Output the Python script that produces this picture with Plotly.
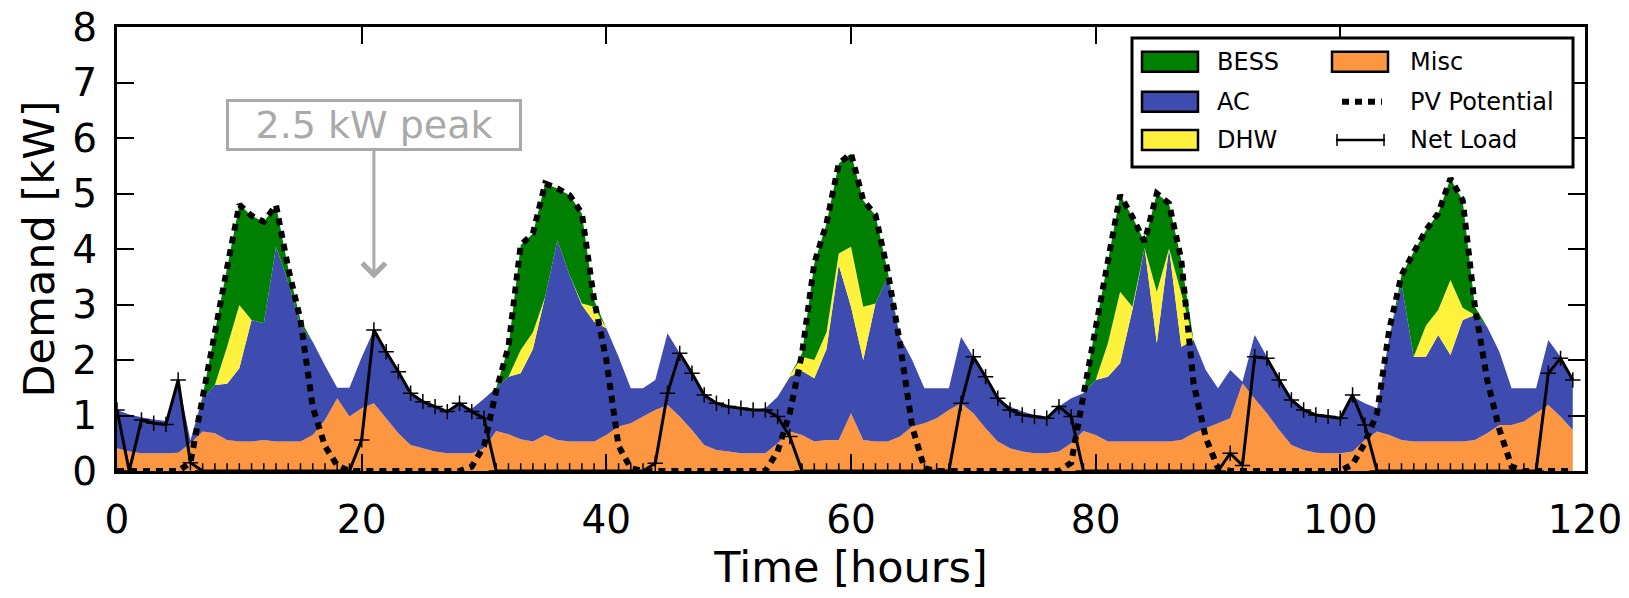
import plotly.graph_objects as go

hours = list(range(120))

misc = [
    0.41, 0.35, 0.32, 0.32, 0.32, 0.33, 0.50, 0.71, 0.68, 0.56,
    0.53, 0.53, 0.56, 0.53, 0.53, 0.53, 0.65, 0.92, 1.31, 0.98,
    1.13, 1.22, 0.95, 0.68, 0.47, 0.41, 0.35, 0.32, 0.32, 0.32,
    0.41, 0.72, 0.66, 0.57, 0.53, 0.65, 0.56, 0.53, 0.53, 0.53,
    0.65, 0.80, 0.86, 0.98, 1.10, 1.19, 0.98, 0.74, 0.47, 0.38,
    0.35, 0.32, 0.32, 0.32, 0.50, 0.71, 0.65, 0.53, 0.56, 0.56,
    1.04, 0.56, 0.53, 0.53, 0.62, 0.80, 0.86, 0.95, 1.10, 1.22,
    1.04, 0.77, 0.53, 0.41, 0.35, 0.32, 0.32, 0.35, 0.50, 0.72,
    0.65, 0.53, 0.53, 0.53, 0.53, 0.53, 0.53, 0.56, 0.68, 0.77,
    0.86, 0.95, 1.58, 1.30, 1.04, 0.74, 0.47, 0.38, 0.33, 0.32,
    0.32, 0.35, 0.56, 0.71, 0.65, 0.56, 0.53, 0.53, 0.53, 0.53,
    0.53, 0.56, 0.68, 0.83, 0.83, 0.89, 1.04, 1.19, 0.98, 0.74,
]

ac = [
    0.69, 0.67, 0.65, 0.61, 0.58, 1.31, 0.05, 0.59, 0.87, 1.01,
    1.32, 2.19, 2.10, 3.51, 2.87, 2.09, 1.68, 0.98, 0.19, 0.52,
    0.92, 1.32, 1.20, 1.11, 0.93, 0.84, 0.81, 0.76, 0.88, 0.80,
    0.89, 0.78, 1.04, 1.19, 1.67, 2.49, 3.60, 3.00, 2.46, 2.16,
    1.92, 1.26, 0.63, 0.51, 0.54, 1.29, 1.14, 1.05, 0.93, 0.84,
    0.81, 0.81, 0.78, 0.81, 0.84, 0.99, 1.15, 1.14, 1.64, 3.15,
    1.92, 1.44, 2.49, 2.97, 1.80, 1.20, 0.63, 0.54, 0.39, 1.20,
    1.02, 0.93, 0.78, 0.75, 0.72, 0.69, 0.66, 0.81, 0.81, 0.68,
    0.99, 1.17, 1.41, 2.37, 3.49, 1.77, 3.48, 1.68, 1.68, 1.05,
    0.63, 0.87, 0.03, 1.15, 1.02, 0.90, 0.81, 0.72, 0.68, 0.66,
    0.63, 0.99, 0.66, 0.42, 1.75, 2.82, 1.53, 1.53, 1.92, 1.56,
    2.19, 2.25, 1.92, 1.32, 0.66, 0.60, 0.45, 1.17, 1.08, 0.84,
]

dhw = [
    0, 0, 0, 0, 0, 0, 0, 0, 0, 0.67,
    1.14, 0, 0, 0, 0, 0, 0, 0, 0, 0,
    0, 0, 0, 0, 0, 0, 0, 0, 0, 0,
    0, 0, 0, 0.42, 0.30, 0, 0, 0, 0.03, 0.27,
    0, 0, 0, 0, 0, 0, 0, 0, 0, 0,
    0, 0, 0, 0, 0, 0.02, 0.26, 0.33, 0.30, 0.21,
    1.08, 0.96, 0, 0, 0, 0, 0, 0, 0, 0,
    0, 0, 0, 0, 0, 0, 0, 0, 0, 0,
    0, 0.60, 1.29, 0.06, 0, 0.93, 0, 0.96, 0, 0,
    0, 0, 0, 0, 0, 0, 0, 0, 0, 0,
    0, 0, 0, 0, 0, 0, 0, 0.56, 0.45, 1.35,
    0.22, 0, 0, 0, 0, 0, 0, 0, 0, 0,
]

bess = [
    0, 0, 0, 0, 0, 0, 0, 0.05, 0.96, 1.42,
    1.81, 1.88, 1.83, 0.75, 0.25, 0.10, 0, 0, 0, 0,
    0, 0, 0, 0, 0, 0, 0, 0, 0, 0,
    0, 0, 0.54, 1.89, 1.78, 2.04, 0.93, 1.44, 1.62, 0.12,
    0, 0, 0, 0, 0, 0, 0, 0, 0, 0,
    0, 0, 0, 0, 0, 0, 0.06, 1.74, 1.96, 1.62,
    1.68, 1.92, 1.59, 0.10, 0, 0, 0, 0, 0, 0,
    0, 0, 0, 0, 0, 0, 0, 0, 0, 0,
    0.97, 1.48, 1.74, 1.62, 0.11, 1.77, 0.81, 0.60, 0, 0,
    0, 0, 0, 0, 0, 0, 0, 0, 0, 0,
    0, 0, 0, 0, 0, 0.15, 1.89, 1.72, 1.74, 1.83,
    1.94, 0.15, 0, 0, 0, 0, 0, 0, 0, 0,
]

pv_potential = [
    0, 0, 0, 0, 0, 0, 0.15, 1.35, 2.51, 3.66,
    4.80, 4.60, 4.49, 4.79, 3.65, 2.72, 1.15, 0.45, 0.10, 0,
    0, 0, 0, 0, 0, 0, 0, 0, 0, 0.08,
    0.45, 1.45, 2.24, 4.07, 4.28, 5.18, 5.09, 4.97, 4.64, 3.08,
    2.00, 0.45, 0.05, 0, 0, 0, 0, 0, 0, 0,
    0, 0, 0, 0, 0.35, 1.05, 2.12, 3.74, 4.46, 5.54,
    5.72, 4.88, 4.61, 3.60, 2.30, 0.80, 0.05, 0, 0, 0,
    0, 0, 0, 0, 0, 0, 0, 0, 0.15, 1.41,
    2.61, 3.78, 4.97, 4.58, 4.13, 5.00, 4.82, 3.80, 1.58, 0.60,
    0.05, 0, 0, 0, 0, 0, 0, 0, 0, 0,
    0, 0.12, 0.50, 1.04, 2.55, 3.53, 3.95, 4.34, 4.64, 5.27,
    4.88, 2.96, 1.65, 0.75, 0.08, 0, 0, 0, 0, 0,
]

net_load = [
    1.10, 0, 0.92, 0.86, 0.84, 1.64, 0.15, 0, 0, 0,
    0, 0, 0, 0, 0, 0, 0, 0, 0, 0,
    0.56, 2.54, 2.15, 1.79, 1.40, 1.25, 1.16, 1.07, 1.22, 1.07,
    0.95, 0, 0, 0, 0, 0, 0, 0, 0, 0,
    0, 0, 0, 0, 0.14, 1.40, 2.12, 1.76, 1.37, 1.22,
    1.16, 1.13, 1.10, 1.10, 0.98, 0.62, 0, 0, 0, 0,
    0, 0, 0, 0, 0, 0, 0, 0, 0, 1.22,
    2.06, 1.70, 1.31, 1.10, 1.01, 0.98, 0.95, 1.16, 0.98, 0,
    0, 0, 0, 0, 0, 0, 0, 0, 0, 0,
    0, 0.32, 0.10, 2.06, 2.03, 1.64, 1.28, 1.10, 1.01, 0.98,
    0.95, 1.37, 0.83, 0, 0, 0, 0, 0, 0, 0,
    0, 0, 0, 0, 0, 0, 0, 1.76, 2.03, 1.64,
]

x_ticks = [0, 20, 40, 60, 80, 100, 120]
y_ticks = [0, 1, 2, 3, 4, 5, 6, 7, 8]

FONT = "DejaVu Sans"
C_MISC = "#fd9640"
C_AC = "#3f4caf"
C_DHW = "#fff23c"
C_BESS = "#008000"
GRAY = "#a9a9a9"
PV_DASH = "7px,6px"

# plot-area geometry (pixels) used only to place the legend box
W, H = 1629, 598
ML, MR, MT, MB = 117, 44, 27, 127
PW, PH = W - ML - MR, H - MT - MB


def px(xp):
    return (xp - ML) / PW


def py(yp):
    return (H - MB - yp) / PH


fig = go.Figure()

areas = [
    ("Misc", misc, C_MISC),
    ("AC", ac, C_AC),
    ("DHW", dhw, C_DHW),
    ("BESS", bess, C_BESS),
]
for name, vals, col in areas:
    fig.add_trace(go.Scatter(
        x=hours, y=vals, name=name, stackgroup="demand", mode="none",
        fillcolor=col, line=dict(width=0), showlegend=False,
    ))

fig.add_trace(go.Scatter(
    x=hours, y=pv_potential, name="PV Potential", mode="lines",
    line=dict(color="black", width=6, dash=PV_DASH), showlegend=False,
))
fig.add_trace(go.Scatter(
    x=hours, y=net_load, name="Net Load", mode="lines+markers",
    line=dict(color="black", width=3),
    marker=dict(symbol="cross-thin", size=11, color="black",
                line=dict(color="black", width=1.5)),
    showlegend=False,
))

# annotation: 2.5 kW peak
fig.add_annotation(
    x=21, y=3.47, xref="x", yref="y", ax=21, ay=6.24, axref="x", ayref="y",
    text="2.5 kW peak", showarrow=True, arrowhead=4, arrowsize=1.5,
    arrowwidth=3, arrowcolor=GRAY, standoff=0,
    font=dict(family=FONT, size=38, color=GRAY),
    bordercolor=GRAY, borderwidth=3, bgcolor="white",
    width=288, height=44, borderpad=1,
)

# ---- legend drawn as a framed box (two columns) ----
shapes = []
shapes.append(dict(type="rect", xref="paper", yref="paper",
                   x0=px(1132), x1=px(1573), y0=py(167), y1=py(38),
                   line=dict(color="black", width=3), fillcolor="white", layer="above"))

row_y = [61.7, 101.7, 140.0]
col_patch = [1142, 1332]
col_text = [1215, 1408]
legend_items = [
    (0, 0, "BESS", "patch", C_BESS),
    (0, 1, "AC", "patch", C_AC),
    (0, 2, "DHW", "patch", C_DHW),
    (1, 0, "Misc", "patch", C_MISC),
    (1, 1, "PV Potential", "dots", None),
    (1, 2, "Net Load", "netload", None),
]
for c, r, label, kind, col in legend_items:
    yc = row_y[r]
    x0 = col_patch[c]
    if kind == "patch":
        shapes.append(dict(type="rect", xref="paper", yref="paper",
                           x0=px(x0), x1=px(x0 + 56), y0=py(yc + 10), y1=py(yc - 10),
                           line=dict(color="black", width=2.5), fillcolor=col, layer="above"))
    elif kind == "dots":
        shapes.append(dict(type="line", xref="paper", yref="paper",
                           x0=px(x0 + 10), x1=px(x0 + 50), y0=py(yc), y1=py(yc),
                           line=dict(color="black", width=6, dash=PV_DASH), layer="above"))
    else:
        shapes.append(dict(type="line", xref="paper", yref="paper",
                           x0=px(x0 + 4), x1=px(x0 + 53), y0=py(yc), y1=py(yc),
                           line=dict(color="black", width=2.5), layer="above"))
        for xe in (x0 + 5, x0 + 52):
            shapes.append(dict(type="line", xref="paper", yref="paper",
                               x0=px(xe), x1=px(xe), y0=py(yc + 6), y1=py(yc - 6),
                               line=dict(color="black", width=1.5), layer="above"))
    fig.add_annotation(
        x=px(col_text[c]), y=py(yc), xref="paper", yref="paper",
        xanchor="left", yanchor="middle", showarrow=False, text=label,
        font=dict(family=FONT, size=24, color="black"),
    )

axis_common = dict(
    showline=True, linecolor="black", linewidth=3, mirror="ticks",
    ticks="inside", ticklen=17, tickwidth=2, tickcolor="black",
    showgrid=False, zeroline=False, automargin=False,
    tickfont=dict(family=FONT, size=39, color="black"),
)

fig.update_layout(
    width=W, height=H,
    margin=dict(l=ML, r=MR, t=MT, b=MB, autoexpand=False),
    paper_bgcolor="white", plot_bgcolor="white",
    font=dict(family=FONT, color="black"),
    xaxis=dict(range=[0, 120], tickvals=x_ticks, ticklabelstandoff=12,
               title=dict(text="Time [hours]", font=dict(family=FONT, size=43), standoff=10),
               **axis_common),
    yaxis=dict(range=[0, 8], tickvals=y_ticks, ticklabelstandoff=9,
               title=dict(text="Demand [kW]", font=dict(family=FONT, size=43), standoff=5),
               **axis_common),
    shapes=shapes,
    showlegend=False,
)

fig.write_html(
    "out.html",
    config={"displayModeBar": False},
    post_script="document.body.style.margin='0px';document.body.style.padding='0px';",
)
